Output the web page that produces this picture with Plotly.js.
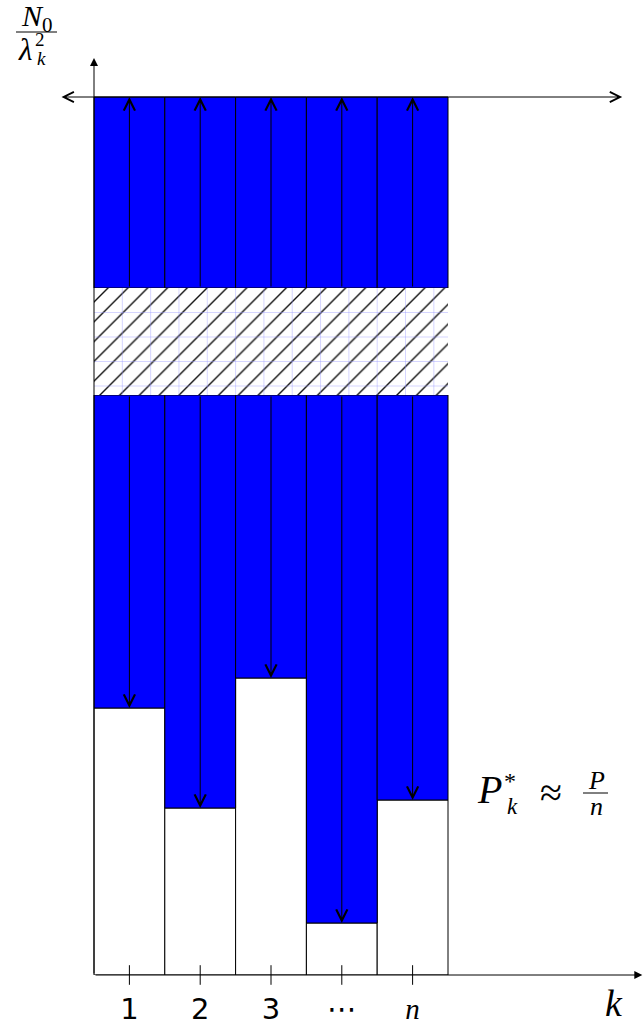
<!DOCTYPE html>
<html>
<head>
<meta charset="utf-8">
<script src="https://cdn.plot.ly/plotly-3.0.1.min.js"></script>
<style>html,body{margin:0;padding:0;background:#fff}</style>
</head>
<body>
<div id="chart" style="width:643px;height:1026px"></div>
<script>
// Water-filling over n parallel channels
const channels = [1, 2, 3, 4, 5];
const tickLabels = ['1', '2', '3', '\u22EF', '<span style="font-family:Liberation Serif"><i>n</i></span>'];
const noiseLevel = [2.67, 1.67, 2.97, 0.52, 1.75];   // N0 / lambda_k^2
const waterLevel = 8.78;
const breakLow = 5.80;    // axis break (hatched band)
const breakHigh = 6.87;

const W = 643, H = 1026, MB = 51;
const PLOT_H = H - MB;
const colW = 70.8, leftEdge = 94;
const x0 = 0.5 - leftEdge / colW;
const xRange = [x0, x0 + W / colW];
const yRange = [0, PLOT_H / 100];

// pixel -> paper helpers for the free-standing labels
const px = v => v / W;
const py = v => (PLOT_H - v) / PLOT_H;

const BLUE = '#0000ff';
const serif = 'Liberation Serif';

const traces = [
  { type: 'bar', x: channels, y: noiseLevel, base: 0, width: 1,
    marker: { color: '#ffffff', line: { color: '#000', width: 1 } }, hoverinfo: 'skip' },
  { type: 'bar', x: channels, y: noiseLevel.map(v => breakLow - v), base: noiseLevel, width: 1,
    marker: { color: BLUE, line: { color: '#000', width: 1 } }, hoverinfo: 'skip' },
  { type: 'bar', x: channels, y: channels.map(() => waterLevel - breakHigh), base: breakHigh, width: 1,
    marker: { color: BLUE, line: { color: '#000', width: 1 } }, hoverinfo: 'skip' },
  { type: 'bar', x: channels, y: channels.map(() => breakHigh - breakLow), base: breakLow, width: 1,
    marker: { color: '#ffffff', line: { width: 0 },
      pattern: { shape: '/', bgcolor: '#ffffff', fgcolor: '#111', size: 14, solidity: 0.1 } },
    hoverinfo: 'skip' },
  // tick marks crossing the k axis
  { type: 'scatter', mode: 'markers', x: channels, y: channels.map(() => 0), cliponaxis: false,
    marker: { symbol: 'line-ns', size: 14, line: { color: '#000', width: 1 } }, hoverinfo: 'skip' }
];

// faint grid inside the hatched band
const shapes = [];
const n = channels.length;
for (let i = 1; i * 0.4 < n; i++) {
  shapes.push({ type: 'line', xref: 'x', yref: 'y', layer: 'above',
    x0: 0.5 + 0.4 * i, x1: 0.5 + 0.4 * i, y0: breakLow, y1: breakHigh,
    line: { color: 'rgba(150,150,255,0.4)', width: 1 } });
}
for (let j = 1; j <= 4; j++) {
  const yy = breakHigh - j * 0.245;
  shapes.push({ type: 'line', xref: 'x', yref: 'y', layer: 'above',
    x0: 0.5, x1: n + 0.5, y0: yy, y1: yy,
    line: { color: 'rgba(150,150,255,0.4)', width: 1 } });
}
// fraction bars
shapes.push({ type: 'line', xref: 'paper', yref: 'paper', x0: px(16), x1: px(57), y0: py(32), y1: py(32),
  line: { color: '#000', width: 1 } });
shapes.push({ type: 'line', xref: 'paper', yref: 'paper', x0: px(583), x1: px(608), y0: py(793), y1: py(793),
  line: { color: '#000', width: 1 } });

function arrow(xa, ya, xb, yb, head, size, extra) {
  return Object.assign({ x: xb, y: yb, ax: xa, ay: ya, xref: 'x', yref: 'y', axref: 'x', ayref: 'y',
    text: '', showarrow: true, arrowhead: head, arrowsize: size, arrowwidth: 1, arrowcolor: '#000' }, extra || {});
}

const annotations = [];
// coordinate axes
annotations.push(arrow(0.5, 0, 0.5, 9.17, 2, 1.6));
annotations.push(arrow(0.5, 0, xRange[1] - 0.01, 0, 2, 1.6));
// water level
annotations.push(arrow(0.02, waterLevel, 7.96, waterLevel, 5, 2,
  { arrowside: 'end+start', startarrowhead: 5, startarrowsize: 2 }));
// power allotted to each channel
channels.forEach((k, i) => {
  annotations.push(arrow(k, breakHigh, k, waterLevel, 5, 2.2));
  annotations.push(arrow(k, breakLow, k, noiseLevel[i], 5, 2.2));
});

function label(text, x, y, size, family) {
  return { xref: 'paper', yref: 'paper', x: px(x), y: py(y), xanchor: 'center', yanchor: 'middle',
    text: text, showarrow: false, borderpad: 0, font: { family: family || serif, size: size, color: '#000' } };
}
// N0 / lambda_k^2
annotations.push(label('<i>N</i><sub>0</sub>', 37, 18, 30));
annotations.push(label('<i>λ</i>', 25, 49, 31));
annotations.push(label('2', 40, 40, 19));
annotations.push(label('<i>k</i>', 41, 59, 19));
// P_k^* ≈ P / n
annotations.push(label('<i>P</i>', 490, 789, 40));
annotations.push(label('*', 510, 781, 24));
annotations.push(label('<i>k</i>', 512, 806, 23));
annotations.push(label('≈', 551, 792, 40));
annotations.push(label('<i>P</i>', 596, 780, 26));
annotations.push(label('<i>n</i>', 596, 806, 26));
// axis name
annotations.push(label('<i>k</i>', 614, 1003, 38));

const layout = {
  width: W, height: H,
  margin: { l: 0, r: 0, t: 0, b: MB, pad: 0 },
  paper_bgcolor: '#fff', plot_bgcolor: '#fff',
  barmode: 'overlay', bargap: 0,
  showlegend: false,
  xaxis: { range: xRange, showgrid: false, zeroline: false, showline: false, ticks: '',
    tickvals: channels, ticktext: tickLabels, ticklabelstandoff: 14,
    tickfont: { family: 'DejaVu Sans', size: 29, color: '#000' }, fixedrange: true },
  yaxis: { range: yRange, visible: false, fixedrange: true },
  shapes: shapes,
  annotations: annotations
};

Plotly.newPlot('chart', traces, layout, { staticPlot: true, displayModeBar: false });
</script>
</body>
</html>
